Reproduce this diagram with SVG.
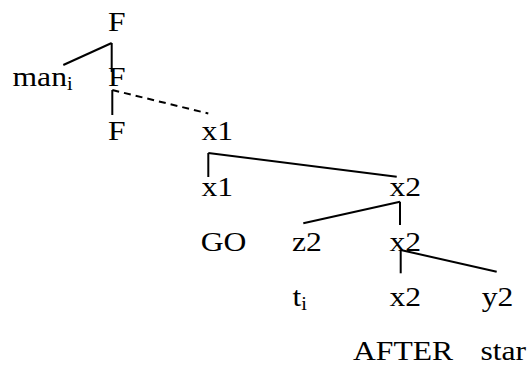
<svg xmlns="http://www.w3.org/2000/svg" width="532" height="367" viewBox="0 0 532 367">
<style>
text{font-size:28px;fill:#000}
.sub{font-size:18px}
line{stroke:#000;stroke-width:2}
.dash{stroke-dasharray:7,5}
</style>
<rect width="532" height="367" fill="#fff"/>
<g id="connectors">
<line x1="111.7" y1="43" x2="63.3" y2="65"/>
<line x1="111.7" y1="43" x2="111.7" y2="72"/>
<line x1="112.3" y1="90" x2="112.3" y2="115"/>
<line class="dash" x1="112.3" y1="90" x2="208.3" y2="113.5"/>
<line x1="208.3" y1="153" x2="208.3" y2="177"/>
<line x1="208.3" y1="153" x2="396.7" y2="176.7"/>
<line x1="400" y1="201.7" x2="400" y2="225"/>
<line x1="400" y1="201.7" x2="303.3" y2="223.3"/>
<line x1="400.7" y1="250" x2="400.7" y2="273.3"/>
<line x1="400.7" y1="250" x2="496.7" y2="271.7"/>
</g>
<g id="nodes" font-family="Liberation Serif">
<g id="n-F1"><text transform="matrix(1.13 0 0 1 108 31)">F</text></g>
<g id="n-man"><text transform="matrix(1.13 0 0 1 12.5 86)">man<tspan class="sub" dy="4">i</tspan></text></g>
<g id="n-F2"><text transform="matrix(1.13 0 0 1 108 86)">F</text></g>
<g id="n-F3"><text transform="matrix(1.13 0 0 1 108 140)">F</text></g>
<g id="n-x1a"><text transform="matrix(1.13 0 0 1 201.5 140)">x1</text></g>
<g id="n-x1b"><text transform="matrix(1.13 0 0 1 201.5 196)">x1</text></g>
<g id="n-x2a"><text transform="matrix(1.13 0 0 1 389.5 196)">x2</text></g>
<g id="n-GO"><text transform="matrix(1.13 0 0 1 200.7 251)">GO</text></g>
<g id="n-z2"><text transform="matrix(1.13 0 0 1 292 251)">z2</text></g>
<g id="n-x2b"><text transform="matrix(1.13 0 0 1 389.5 251)">x2</text></g>
<g id="n-ti"><text transform="matrix(1.13 0 0 1 292.5 306)">t<tspan class="sub" dy="4">i</tspan></text></g>
<g id="n-x2c"><text transform="matrix(1.13 0 0 1 389.5 306)">x2</text></g>
<g id="n-y2"><text transform="matrix(1.13 0 0 1 481.8 306)">y2</text></g>
<g id="n-AFTER"><text transform="matrix(1.13 0 0 1 353 360)">AFTER</text></g>
<g id="n-star"><text transform="matrix(1.13 0 0 1 480.4 360)">star</text></g>
</g>
</svg>
